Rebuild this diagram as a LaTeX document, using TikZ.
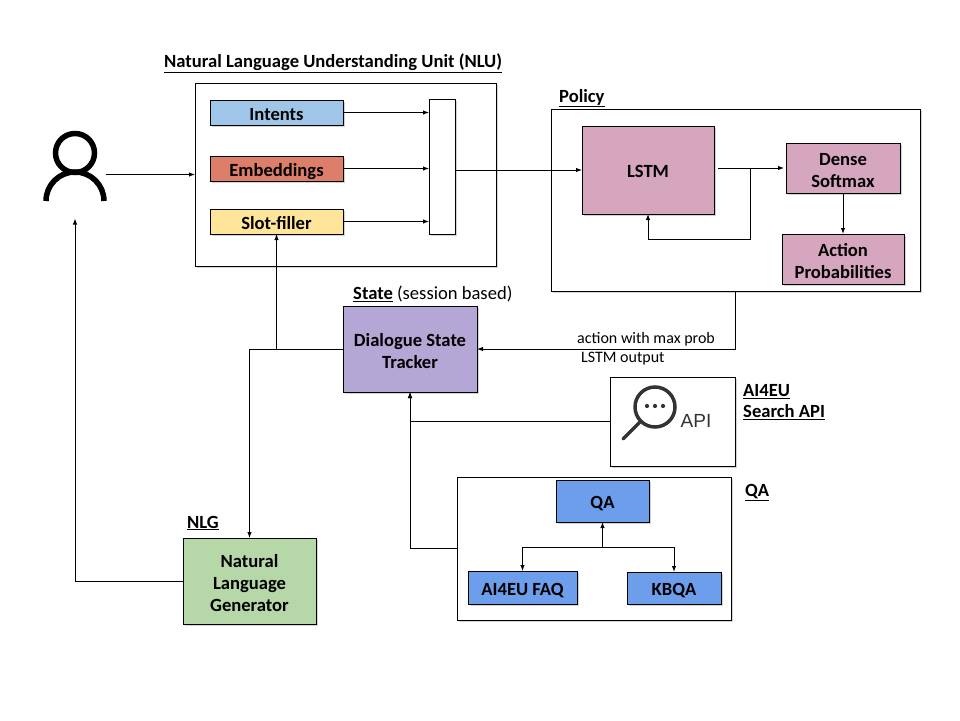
\documentclass[tikz,border=0pt]{standalone}
\usepackage{fontspec}
\setmainfont{Carlito}
\usetikzlibrary{arrows.meta,shadows}
\definecolor{intentsblue}{HTML}{9FC5E8}
\definecolor{embedred}{HTML}{DD7E6B}
\definecolor{slotyellow}{HTML}{FFE599}
\definecolor{policypink}{HTML}{D5A6BD}
\definecolor{statepurple}{HTML}{B4A7D6}
\definecolor{qablue}{HTML}{6D9EEB}
\definecolor{nlggreen}{HTML}{B6D7A8}
\definecolor{icongrey}{HTML}{333333}
\begin{document}
\begin{tikzpicture}[x=1pt,y=-1pt]
       \tikzstyle{boxnode}=[draw, line width=1pt, inner sep=0pt, outer sep=0pt, align=center, font=\fontsize{18.6}{22}\selectfont\bfseries, drop shadow={opacity=0.35, shadow xshift=1.5pt, shadow yshift=-1.5pt}]
       \tikzstyle{groupnode}=[boxnode, fill=white]
       \tikzstyle{oneline}=[boxnode, execute at begin node={\rule[-4pt]{0pt}{23pt}}]
       \tikzstyle{twoline}=[boxnode, execute at begin node={\rule{0pt}{39.5pt}}]
       \tikzstyle{threeline}=[boxnode, execute at begin node={\rule{0pt}{60.5pt}}]
       \tikzstyle{titlenode}=[inner sep=0pt, anchor=west, align=left, font=\fontsize{18.6}{21}\selectfont\bfseries]
       \tikzstyle{notenode}=[inner sep=0pt, anchor=west, font=\fontsize{16}{18}\selectfont]
       \tikzstyle{flow}=[draw, line width=1pt, -{Latex[length=6pt,width=4.5pt]}]
       \useasboundingbox (0,0) rectangle (960,720);
       \node[groupnode, minimum width=301pt, minimum height=183pt] (nlu) at (345.5,174.5) {};
       \node[groupnode, minimum width=369pt, minimum height=182pt] (policy) at (735.5,200) {};
       \node[groupnode, minimum width=125pt, minimum height=89pt] (api) at (672.5,421.5) {};
       \node[groupnode, minimum width=274pt, minimum height=143pt] (qagroup) at (594,548.5) {};
       \node[oneline, fill=intentsblue, minimum width=133pt, minimum height=25pt] (intents) at (276.5,112.5) {Intents};
       \node[oneline, fill=embedred, minimum width=133pt, minimum height=25pt] (embed) at (276.5,168.5) {Embeddings};
       \node[oneline, fill=slotyellow, minimum width=133pt, minimum height=25pt] (slot) at (276.5,221.5) {Slot-filler};
       \node[groupnode, minimum width=26pt, minimum height=135pt] (merge) at (442,166.5) {};
       \node[oneline, fill=policypink, minimum width=132pt, minimum height=88pt] (lstm) at (648,170) {LSTM};
       \node[twoline, fill=policypink, minimum width=114pt, minimum height=50pt] (dense) at (843,168) {Dense\\Softmax};
       \node[twoline, fill=policypink, minimum width=122pt, minimum height=50pt] (action) at (843,259) {Action\\Probabilities};
       \node[twoline, fill=statepurple, minimum width=134pt, minimum height=86pt] (tracker) at (410,349) {Dialogue State\\Tracker};
       \node[threeline, fill=nlggreen, minimum width=133pt, minimum height=86pt] (nlg) at (249.5,581) {Natural\\Language\\Generator};
       \node[oneline, fill=qablue, minimum width=93pt, minimum height=42pt] (qa) at (602.5,501) {QA};
       \node[oneline, fill=qablue, minimum width=109pt, minimum height=33pt] (faq) at (522.5,587.5) {AI4EU FAQ};
       \node[oneline, fill=qablue, minimum width=94pt, minimum height=32pt] (kbqa) at (674,588) {KBQA};
       \node[minimum width=62pt, minimum height=88pt, inner sep=0pt, outer sep=0pt] (user) at (75,174.5) {};
       \draw[line width=5.5pt] (75,153) circle[radius=19.5];
       \draw[line width=5.5pt] (46,201) arc[start angle=180, end angle=360, radius=29];
       \draw[icongrey, line width=3.5pt] (655,407) circle[radius=20];
       \draw[icongrey, line width=3.5pt, line cap=round] (640,422) -- (623,439);
       \fill[icongrey] (647,406) circle[radius=2.1] (655,406) circle[radius=2.1] (663,406) circle[radius=2.1];
       \node[inner sep=0pt, text=icongrey, font=\fontsize{19}{22}\fontspec{Liberation Sans}\selectfont] (apitext) at (696,421) {API};
       \node[titlenode] (nlutitle) at (164,63) {\underline{Natural Language Understanding Unit (NLU)}};
       \node[titlenode] (policytitle) at (559,98) {\underline{Policy}};
       \node[titlenode] (statetitle) at (353,294) {\underline{State} \mdseries(session based)};
       \node[titlenode] (nlgtitle) at (187,523) {\underline{NLG}};
       \node[titlenode] (apititle) at (743,402.5) {\underline{AI4EU}\\\underline{Search API}};
       \node[titlenode] (qatitle) at (745,493) {\underline{QA}};
       \node[notenode] (actionnote) at (577,339) {action with max prob};
       \node[notenode] (outputnote) at (581,358.5) {LSTM output};
       \coordinate (lstmfork) at (750,168);
       \coordinate (lstmback) at (750,239);
       \coordinate (qafork) at (602.5,547);
       \path[flow] (user.east) -- (nlu.west);
       \path[flow] (intents.east) -- (intents.east -| merge.west);
       \path[flow] (embed.east) -- (embed.east -| merge.west);
       \path[flow] (slot.east) -- (slot.east -| merge.west);
       \path[flow] (merge.east |- lstm.west) -- (lstm.west);
       \path[flow, shorten <=4pt, shorten >=2pt] (lstm.east |- dense.west) -- (dense.west);
       \path[flow] (lstmfork) -- (lstmback) -| (lstm.south);
       \path[flow] (dense.south) -- (action.north);
       \path[flow] (policy.south) |- (tracker.east);
       \path[flow] (tracker.west) -| (slot.south);
       \path[flow] (tracker.west) -| (nlg.north);
       \path[flow] (nlg.west) -| (user.south);
       \path[flow] (api.west) -| (tracker.south);
       \path[flow] (qagroup.west) -| (tracker.south);
       \path[flow] (qafork) -- (qa.south);
       \path[flow] (qafork) -| (faq.north);
       \path[flow] (qafork) -| (kbqa.north);
      \end{tikzpicture}
\end{document}
